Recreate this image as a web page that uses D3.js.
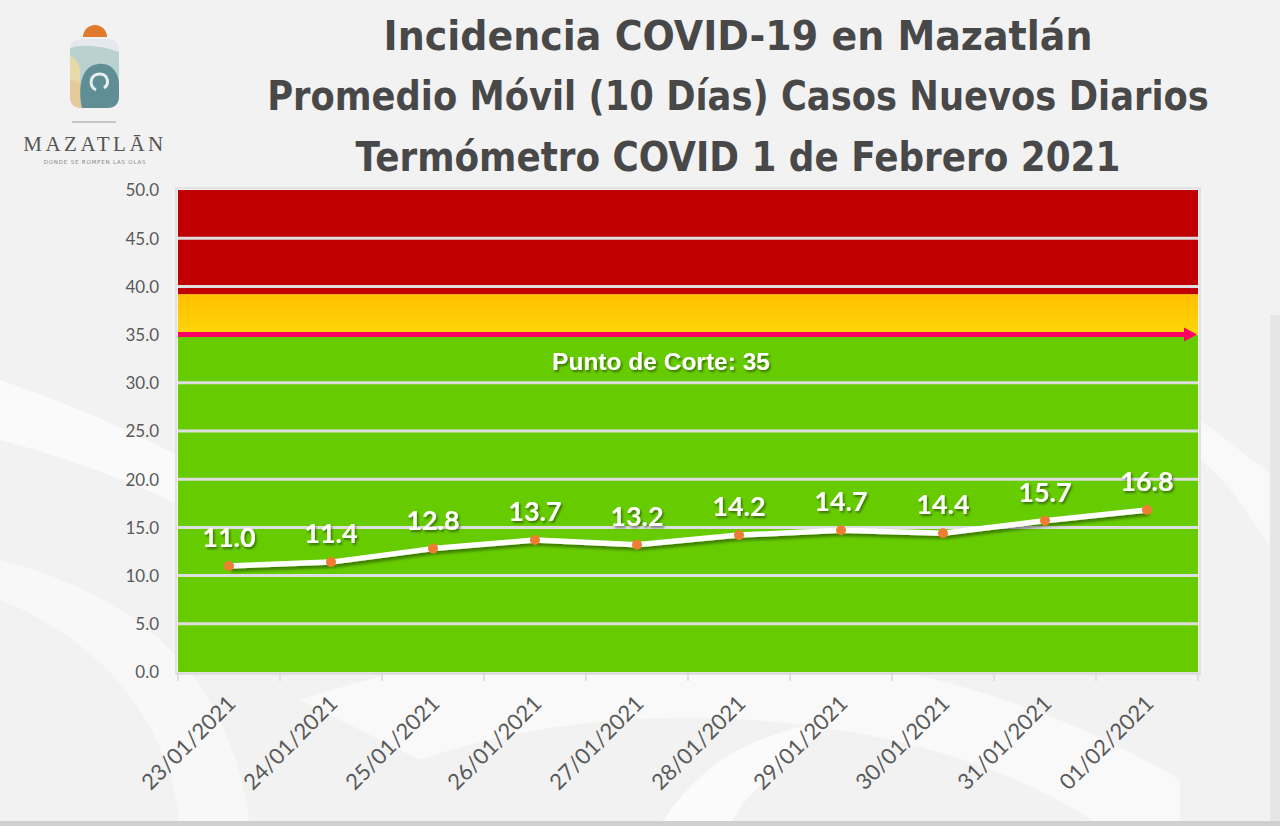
<!DOCTYPE html>
<html><head><meta charset="utf-8">
<script src="https://cdn.jsdelivr.net/npm/d3@7"></script>
<style>
html,body{margin:0;padding:0;background:#f3f3f3;}
svg{display:block;}
</style></head>
<body>
<svg id="c" width="1280" height="826"></svg>
<script>
// ---- data ----
const dates = ["23/01/2021","24/01/2021","25/01/2021","26/01/2021","27/01/2021","28/01/2021","29/01/2021","30/01/2021","31/01/2021","01/02/2021"];
const values = [11.0, 11.4, 12.8, 13.7, 13.2, 14.2, 14.7, 14.4, 15.7, 16.8];
const yTicks = [0,5,10,15,20,25,30,35,40,45,50];
const bandNames = ["verde","amarillo","rojo"];
const bandFrom = [0, 35, 39.2];
const bandTo = [35, 39.2, 50];
const cutoff = 35;
const titleLines = ["Incidencia COVID-19 en Mazatlán","Promedio Móvil (10 Días) Casos Nuevos Diarios","Termómetro COVID 1 de Febrero 2021"];
const cutoffLabel = "Punto de Corte: 35";

const svg = d3.select("#c");
const W = 1280, H = 826;
const m = {left:178, right:1198, top:190, bottom:672};

const defs = svg.append("defs");
const yg = defs.append("linearGradient").attr("id","yel").attr("x1",0).attr("y1",0).attr("x2",0).attr("y2",1);
yg.append("stop").attr("offset","0%").attr("stop-color","#ffbf00");
yg.append("stop").attr("offset","100%").attr("stop-color","#ffd60a");
const sh = defs.append("filter").attr("id","sh").attr("x","-20%").attr("y","-50%").attr("width","140%").attr("height","200%");
sh.append("feDropShadow").attr("dx",1.5).attr("dy",2).attr("stdDeviation",1.2).attr("flood-color","#000").attr("flood-opacity",0.45);
const shl = defs.append("filter").attr("id","shl").attr("x","-5%").attr("y","-50%").attr("width","110%").attr("height","200%");
shl.append("feDropShadow").attr("dx",2).attr("dy",3).attr("stdDeviation",1.5).attr("flood-color","#000").attr("flood-opacity",0.4);

// ---- background swooshes ----
const bg = svg.append("g");
bg.append("rect").attr("width",W).attr("height",H).attr("fill","#f2f2f2");
bg.append("path").attr("d","M0,380 C200,450 300,520 330,600 C260,540 150,480 0,440 Z").attr("fill","#fafafa");
bg.append("path").attr("d","M0,560 C150,600 230,680 250,826 L180,826 C170,720 100,640 0,600 Z").attr("fill","#f8f8f8");
bg.append("path").attr("d","M300,700 C600,600 950,640 1180,780 L1180,826 L1100,826 C950,720 650,680 420,760 C380,740 340,720 300,700 Z").attr("fill","#f9f9f9");
bg.append("path").attr("d","M660,826 C700,760 760,730 840,720 C780,760 740,800 730,826 Z").attr("fill","#fbfbfb");
bg.append("path").attr("d","M1200,420 C1240,450 1265,470 1280,480 L1280,560 C1250,520 1230,480 1200,460 Z").attr("fill","#f9f9f9");
bg.append("rect").attr("x",1270).attr("y",315).attr("width",10).attr("height",511).attr("fill","#e6e6e6");
bg.append("rect").attr("x",0).attr("y",821).attr("width",W).attr("height",5).attr("fill","#d0d0d0");

// ---- logo ----
const lg = svg.append("g");
lg.append("path").attr("d","M83,37 A12,12 0 0 1 107,37 Z").attr("fill","#e07a2e");
lg.append("path").attr("d","M70,48 Q70,40 80,39 L110,39 Q119,40 119,50 L119,96 Q119,108 107,108 L82,108 Q70,108 70,96 Z").attr("fill","#e5e8ee");
lg.append("path").attr("d","M70,48 Q90,42 119,52 L119,96 Q119,108 107,108 L82,108 Q70,108 70,96 Z").attr("fill","#b9d1cf");
lg.append("path").attr("d","M70,56 Q78,58 80,70 L80,108 L82,108 Q70,108 70,96 Z").attr("fill","#e8d9a8");
lg.append("path").attr("d","M70,80 Q82,80 84,95 L84,108 L82,108 Q70,108 70,96 Z").attr("fill","#e4c99b");
lg.append("path").attr("d","M82,108 C78,90 80,66 98,64 C112,62 119,74 119,84 L119,96 Q119,108 107,108 Z").attr("fill","#5f8e95");
lg.append("path").attr("d","M96,90 C88,86 90,74 100,74 C108,74 110,84 104,88").attr("fill","none").attr("stroke","#e8eeee").attr("stroke-width",3);
lg.append("line").attr("x1",72).attr("x2",116).attr("y1",122).attr("y2",122).attr("stroke","#999").attr("stroke-width",1);
lg.append("text").attr("x",95).attr("y",151).attr("text-anchor","middle")
  .attr("font-family","Liberation Serif, DejaVu Serif, serif").attr("font-size",21).attr("letter-spacing",3.5)
  .attr("fill","#555").text("MAZATLĀN");
lg.append("text").attr("x",95).attr("y",164).attr("text-anchor","middle")
  .attr("font-family","DejaVu Sans, sans-serif").attr("font-size",5.5).attr("letter-spacing",0.8)
  .attr("fill","#888").text("DONDE SE ROMPEN LAS OLAS");

// ---- title ----
const tWidths = [709, 942, 765];
const tBase = [50, 110, 171];
svg.append("g").selectAll("text").data(titleLines).join("text")
  .attr("x",0).attr("y",0).attr("text-anchor","middle")
  .attr("font-family","DejaVu Sans, Verdana, sans-serif").attr("font-weight","bold").attr("font-size",41)
  .attr("fill","#484848").text(d=>d)
  .attr("transform",function(d,i){
    const w = this.getComputedTextLength();
    return `translate(738,${tBase[i]}) scale(${tWidths[i]/w},1)`;
  });

// ---- scales ----
const x = d3.scaleBand().domain(dates).range([m.left, m.right]).padding(0);
const y = d3.scaleLinear().domain([0,50]).range([m.bottom, m.top]);

// plot frame
svg.append("rect").attr("x",m.left-2).attr("y",m.top-2).attr("width",m.right-m.left+4).attr("height",m.bottom-m.top+4)
  .attr("fill","none").attr("stroke","#e2e2e2").attr("stroke-width",2);

// bands
const bandFill = ["#66cc00","url(#yel)","#c00000"];
svg.append("g").selectAll("rect").data(bandNames).join("rect")
  .attr("x",m.left).attr("width",m.right-m.left)
  .attr("y",(d,i)=>y(bandTo[i])).attr("height",(d,i)=>y(bandFrom[i])-y(bandTo[i]))
  .attr("fill",(d,i)=>bandFill[i]);

// gridlines
svg.append("g").selectAll("line").data(yTicks.filter(t=>t>0 && t<50 && t!==cutoff)).join("line")
  .attr("x1",m.left).attr("x2",m.right).attr("y1",d=>y(d)).attr("y2",d=>y(d))
  .attr("stroke","#dedede").attr("stroke-width",3);

// y axis labels
const yAxis = d3.axisLeft(y).tickValues(yTicks).tickFormat(d3.format(".1f")).tickSize(0).tickPadding(0);
const ya = svg.append("g").attr("transform",`translate(${m.left-19},0)`).call(yAxis);
ya.select(".domain").remove();
ya.selectAll("text").attr("font-family","Lato, Calibri, sans-serif").attr("font-size",17).attr("fill","#595959").attr("dy","0.35em");

// x axis
const xAxis = d3.axisBottom(x).tickSize(0).tickPadding(0);
const xa = svg.append("g").attr("transform",`translate(0,${m.bottom})`).call(xAxis);
xa.select(".domain").remove();
xa.selectAll("text")
  .attr("font-family","Lato, Calibri, sans-serif").attr("font-size",22).attr("fill","#595959")
  .attr("text-anchor","end").attr("y",0).attr("dy",0)
  .attr("transform","translate(8,33) rotate(-45)").attr("x",0);
// tick marks at band boundaries
const bounds = dates.map(d=>x(d)).concat([x(dates[dates.length-1])+x.bandwidth()]);
svg.append("g").selectAll("line").data(bounds).join("line")
  .attr("x1",d=>d).attr("x2",d=>d).attr("y1",m.bottom).attr("y2",m.bottom+9)
  .attr("stroke","#d9d9d9").attr("stroke-width",1.5);
svg.append("line").attr("x1",m.left).attr("x2",m.right).attr("y1",m.bottom+1).attr("y2",m.bottom+1).attr("stroke","#d9d9d9").attr("stroke-width",1.5);

// cutoff arrow
const cy = y(cutoff);
svg.append("line").attr("x1",m.left).attr("x2",m.right-12).attr("y1",cy).attr("y2",cy)
  .attr("stroke","#ff0066").attr("stroke-width",5);
svg.append("path").attr("d",`M${m.right-14},${cy-7} L${m.right-1},${cy} L${m.right-14},${cy+7} Z`).attr("fill","#ff0066");
svg.append("text").attr("x",661).attr("y",370).attr("text-anchor","middle")
  .attr("font-family","Liberation Sans, Arial, sans-serif").attr("font-weight","bold").attr("font-size",24.5)
  .attr("fill","#fff").attr("filter","url(#sh)").text(cutoffLabel);

// line
const cx = d=>x(d)+x.bandwidth()/2;
const line = d3.line().x((d,i)=>cx(dates[i])).y(d=>y(d));
svg.append("path").datum(values).attr("d",line).attr("fill","none")
  .attr("stroke","#fff").attr("stroke-width",5.5).attr("stroke-linejoin","round").attr("filter","url(#shl)");
svg.append("g").selectAll("circle").data(values).join("circle")
  .attr("cx",(d,i)=>cx(dates[i])).attr("cy",d=>y(d)).attr("r",5).attr("fill","#ed7d31");
svg.append("g").selectAll("text").data(values).join("text")
  .attr("x",(d,i)=>cx(dates[i])).attr("y",d=>y(d)-19).attr("text-anchor","middle")
  .attr("font-family","Lato, Calibri, sans-serif").attr("font-weight","bold").attr("font-size",27)
  .attr("fill","#fff").attr("filter","url(#sh)").text(d=>d3.format(".1f")(d));
</script>
</body></html>
